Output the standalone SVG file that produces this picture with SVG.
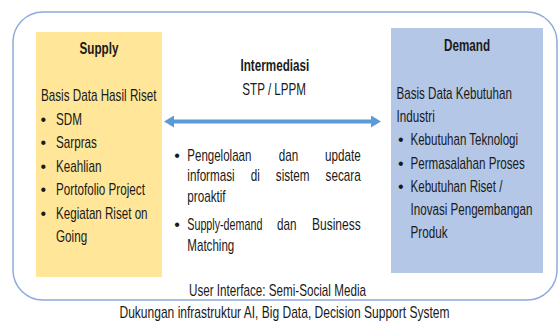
<svg xmlns="http://www.w3.org/2000/svg" width="558" height="322" viewBox="0 0 558 322">
<style>
text{font-family:"Liberation Sans",Arial,sans-serif;fill:#1a1a1a;font-size:16px;}
.b{font-weight:bold;}
.bul{text-anchor:middle;}
</style>
<defs>
<marker id="ah" viewBox="0 0 10 12" refX="0" refY="6" markerWidth="10" markerHeight="12" markerUnits="userSpaceOnUse" orient="auto-start-reverse">
<path d="M0,0 L10,6 L0,12 z" fill="#5B9BD5"/>
</marker>
</defs>
<rect width="558" height="322" fill="#ffffff"/>
<g id="frame">
<rect x="13" y="12" width="544" height="288" rx="30" ry="30" fill="none" stroke="#8FAADC" stroke-width="1.5"/>
</g>
<g id="supply">
<rect x="36" y="32" width="126" height="245" fill="#FFE699"/>
<text class="b" transform="translate(79.5 54) scale(.73 1)">Supply</text>
<text transform="translate(41 101) scale(.73 1)">Basis Data Hasil Riset</text>
<text class="bul" x="43.3" y="124.5">•</text>
<text transform="translate(56 124.5) scale(.73 1)">SDM</text>
<text class="bul" x="43.3" y="148">•</text>
<text transform="translate(56 148) scale(.73 1)">Sarpras</text>
<text class="bul" x="43.3" y="171.5">•</text>
<text transform="translate(56 171.5) scale(.73 1)">Keahlian</text>
<text class="bul" x="43.3" y="195">•</text>
<text transform="translate(56 195) scale(.73 1)">Portofolio Project</text>
<text class="bul" x="43.3" y="218.5">•</text>
<text transform="translate(56 218.5) scale(.725 1)">Kegiatan Riset on</text>
<text transform="translate(56 242) scale(.73 1)">Going</text>
</g>
<g id="demand">
<rect x="391" y="28" width="152" height="245" fill="#B4C7E7"/>
<text class="b" transform="translate(444 51) scale(.73 1)">Demand</text>
<text transform="translate(396.5 99) scale(.725 1)">Basis Data Kebutuhan</text>
<text transform="translate(396.5 122.2) scale(.73 1)">Industri</text>
<text class="bul" x="400.7" y="145.4">•</text>
<text transform="translate(410.5 145.4) scale(.722 1)">Kebutuhan Teknologi</text>
<text class="bul" x="400.7" y="168.6">•</text>
<text transform="translate(410.5 168.6) scale(.727 1)">Permasalahan Proses</text>
<text class="bul" x="400.7" y="191.8">•</text>
<text transform="translate(410.5 191.8) scale(.723 1)">Kebutuhan Riset /</text>
<text transform="translate(410.5 215) scale(.726 1)">Inovasi Pengembangan</text>
<text transform="translate(410.5 238.2) scale(.73 1)">Produk</text>
</g>
<g id="intermediasi">
<text class="b" transform="translate(240.5 70.5) scale(.73 1)">Intermediasi</text>
<text transform="translate(242.3 95) scale(.727 1)">STP / LPPM</text>
<text class="bul" x="177" y="160.5">•</text>
<text transform="translate(187.3 160.5) scale(.72 1)">Pengelolaan</text>
<text transform="translate(278.8 160.5) scale(.73 1)">dan</text>
<text transform="translate(325 160.5) scale(.73 1)">update</text>
<text transform="translate(187.3 181) scale(.73 1)">informasi</text>
<text transform="translate(250.7 181) scale(.73 1)">di</text>
<text transform="translate(275.8 181) scale(.73 1)">sistem</text>
<text transform="translate(325.6 181) scale(.73 1)">secara</text>
<text transform="translate(187.3 201.5) scale(.73 1)">proaktif</text>
<text class="bul" x="177" y="229.5">•</text>
<text transform="translate(187.3 229.5) scale(.67 1)">Supply-demand</text>
<text transform="translate(277 229.5) scale(.73 1)">dan</text>
<text transform="translate(312 229.5) scale(.75 1)">Business</text>
<text transform="translate(187.3 250.5) scale(.724 1)">Matching</text>
</g>
<g id="connectors">
<line x1="174" y1="121.5" x2="371" y2="121.5" stroke="#5B9BD5" stroke-width="4" marker-start="url(#ah)" marker-end="url(#ah)"/>
</g>
<g id="footer">
<text transform="translate(189 295.5) scale(.729 1)">User Interface: Semi-Social Media</text>
<text transform="translate(119.5 318) scale(.752 1)">Dukungan infrastruktur AI, Big Data, Decision Support System</text>
</g>
</svg>
